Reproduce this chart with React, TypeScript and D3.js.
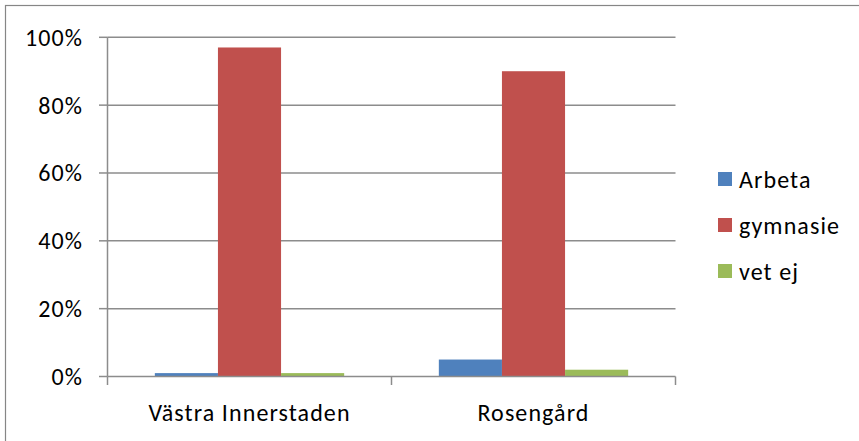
import React from "react";
import * as d3 from "d3";

const categories = ["Västra Innerstaden", "Rosengård"];
const seriesNames = ["Arbeta", "gymnasie", "vet ej"];
const arbeta = [0.01, 0.05];
const gymnasie = [0.97, 0.9];
const vetEj = [0.01, 0.02];
const yTicks = [0, 0.2, 0.4, 0.6, 0.8, 1.0];
const colors = ["#4F81BD", "#C0504D", "#9BBB59"];

const W = 859;
const H = 441;
const FONT = "Carlito, Calibri, Lato, sans-serif";
const FS = 24;
const LS = 1.1;

export default function App() {
  const series = [arbeta, gymnasie, vetEj];
  const left = 107.5;
  const right = 675.5;
  const top = 37.3;
  const bottom = 376.5;

  const x0 = d3.scaleBand<string>().domain(categories).range([left, right]).paddingInner(0).paddingOuter(0);
  const bw = x0.bandwidth();
  const inner = d3
    .scaleBand<string>()
    .domain(seriesNames)
    .range([0, bw])
    .paddingInner(0)
    .paddingOuter(0.75);
  const y = d3.scaleLinear().domain([0, 1]).range([bottom, top]);
  const fmt = d3.format(".0%");

  const gridColor = "#8c8c8c";
  const boundaries = [...categories.map((c) => x0(c) as number), right];

  return (
    <svg
      width={W}
      height={H}
      style={{ position: "fixed", left: 0, top: 0, background: "#fff" }}
      fontFamily={FONT}
      letterSpacing={LS}
    >
      <rect x={0} y={0} width={W} height={H} fill="#fff" />
      <rect x={5.5} y={5.5} width={W + 20} height={H + 20} fill="none" stroke="#868686" strokeWidth={1.2} />
      {yTicks.map((t) => (
        <g key={t}>
          {t > 0 && (
            <line x1={left} x2={right} y1={y(t)} y2={y(t)} stroke={gridColor} strokeWidth={1.5} />
          )}
          <line x1={99} x2={left} y1={y(t)} y2={y(t)} stroke={gridColor} strokeWidth={1.5} />
          <text
            x={83}
            y={y(t)}
            textAnchor="end"
            dominantBaseline="central"
            fontSize={FS}
            fill="#000"
          >
            {fmt(t)}
          </text>
        </g>
      ))}
      {categories.map((c, ci) => (
        <g key={c}>
          {series.map((s, si) => {
            const bx = (x0(c) as number) + (inner(seriesNames[si]) as number);
            return (
              <rect
                key={si}
                x={bx}
                y={y(s[ci])}
                width={inner.bandwidth()}
                height={bottom - y(s[ci])}
                fill={colors[si]}
              />
            );
          })}
          <text
            x={(x0(c) as number) + bw / 2}
            y={412}
            textAnchor="middle"
            dominantBaseline="central"
            fontSize={FS}
            fill="#000"
          >
            {c}
          </text>
        </g>
      ))}
      <line x1={left} x2={left} y1={top} y2={bottom} stroke={gridColor} strokeWidth={1.5} />
      <line x1={left} x2={right} y1={bottom} y2={bottom} stroke={gridColor} strokeWidth={1.5} />
      {boundaries.map((b, i) => (
        <line key={i} x1={b} x2={b} y1={bottom} y2={385} stroke={gridColor} strokeWidth={1.5} />
      ))}
      {seriesNames.map((n, i) => {
        const cy = 179 + i * 46;
        return (
          <g key={n}>
            <rect x={718} y={cy - 7} width={14} height={14} fill={colors[i]} />
            <text x={739} y={cy} dominantBaseline="central" fontSize={FS} fill="#000">
              {n}
            </text>
          </g>
        );
      })}
    </svg>
  );
}
